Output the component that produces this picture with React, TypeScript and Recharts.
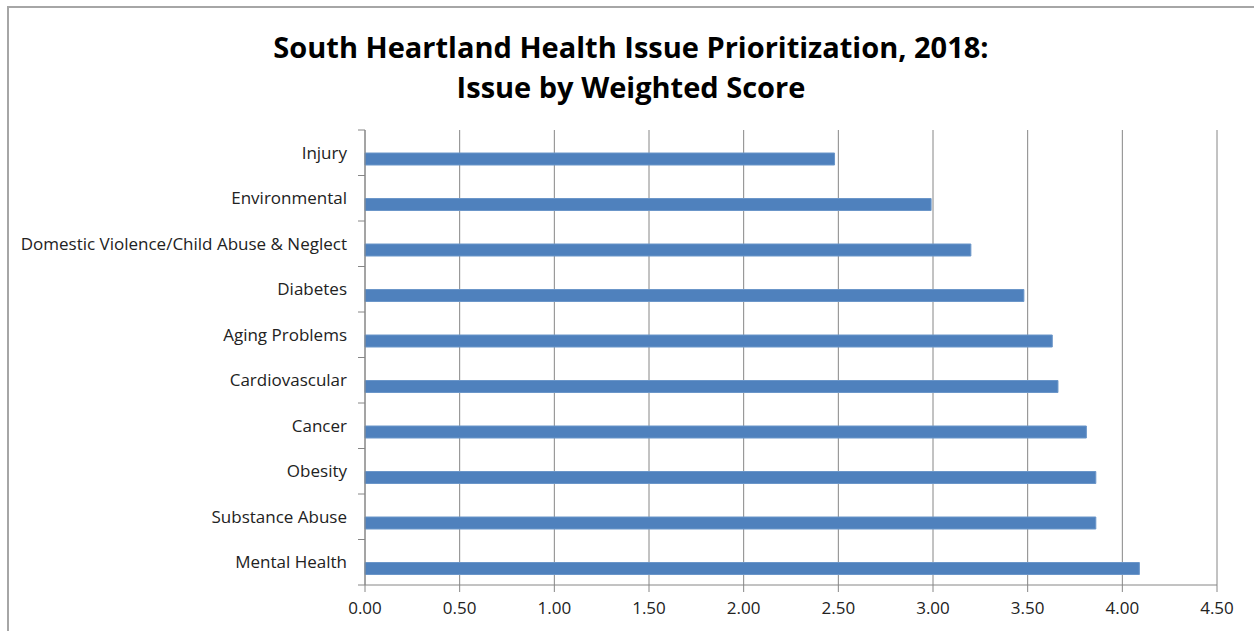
import { BarChart, Bar, XAxis, YAxis, CartesianGrid } from "recharts";

const issues = [
  "Injury",
  "Environmental",
  "Domestic Violence/Child Abuse & Neglect",
  "Diabetes",
  "Aging Problems",
  "Cardiovascular ",
  "Cancer",
  "Obesity",
  "Substance Abuse",
  "Mental Health",
];
const scores = [2.48, 2.99, 3.2, 3.48, 3.63, 3.66, 3.81, 3.86, 3.86, 4.09];
const xTicks = [0, 0.5, 1, 1.5, 2, 2.5, 3, 3.5, 4, 4.5];

const data = issues.map((issue, i) => ({ issue, score: scores[i] }));

const W = 1254;
const H = 631;
const TOP = 130;
const BOTTOM = 46;
const PLOT_H = H - TOP - BOTTOM;
const HALF_BAND = PLOT_H / issues.length / 2;
const AXIS = "#868686";
const FONT = "'Open Sans', Lato, sans-serif";

function CategoryTick(props: any) {
  const { x, y, payload, index } = props;
  const ax = x + 18;
  return (
    <g>
      <line x1={ax - 7} x2={ax} y1={y - HALF_BAND} y2={y - HALF_BAND} stroke={AXIS} />
      {index === issues.length - 1 && (
        <line x1={ax - 7} x2={ax} y1={y + HALF_BAND} y2={y + HALF_BAND} stroke={AXIS} />
      )}
      <text x={x} y={y} dy={6} textAnchor="end" fill="#222" fontSize={17} fontFamily={FONT}>
        {payload.value}
      </text>
    </g>
  );
}

export default function App() {
  return (
    <div style={{ position: "absolute", left: 0, top: 0, width: W, height: H, overflow: "hidden", background: "#fff" }}>
      <div style={{ position: "absolute", left: 7, top: 6, width: W, height: 0, borderTop: "2px solid #a6a6a6", zIndex: 2 }} />
      <div style={{ position: "absolute", left: 7, top: 6, width: 0, height: H, borderLeft: "2px solid #a6a6a6", zIndex: 2 }} />
      <div
        style={{
          position: "absolute",
          left: 0,
          top: 27,
          width: 1262,
          textAlign: "center",
          fontFamily: FONT,
          fontWeight: 700,
          fontSize: 29,
          lineHeight: "40px",
          color: "#000",
          zIndex: 2,
        }}
      >
        South Heartland Health Issue Prioritization, 2018:
        <br />
        Issue by Weighted Score
      </div>
      <BarChart
        width={W}
        height={H}
        data={data}
        layout="vertical"
        margin={{ top: TOP, right: 37, bottom: 16, left: 0 }}
        barGap={0}
        barSize={12}
        style={{ position: "absolute", left: 0, top: 0 }}
      >
        <CartesianGrid horizontal={false} vertical stroke={AXIS} />
        <XAxis
          type="number"
          domain={[0, 4.5]}
          ticks={xTicks}
          tickFormatter={(v: number) => v.toFixed(2)}
          height={30}
          stroke={AXIS}
          tickSize={7}
          tickMargin={10}
          tick={{ fill: "#222", fontSize: 17, fontFamily: FONT }}
          interval={0}
        />
        <YAxis
          type="category"
          dataKey="issue"
          width={365}
          stroke={AXIS}
          tickLine={false}
          tickSize={0}
          tickMargin={18}
          tick={<CategoryTick />}
          interval={0}
        />
        <Bar dataKey="spacer" fill="none" isAnimationActive={false} />
        <Bar dataKey="score" fill="#4F81BD" stroke="#6b96c9" strokeWidth={1} isAnimationActive={false} />
      </BarChart>
    </div>
  );
}
